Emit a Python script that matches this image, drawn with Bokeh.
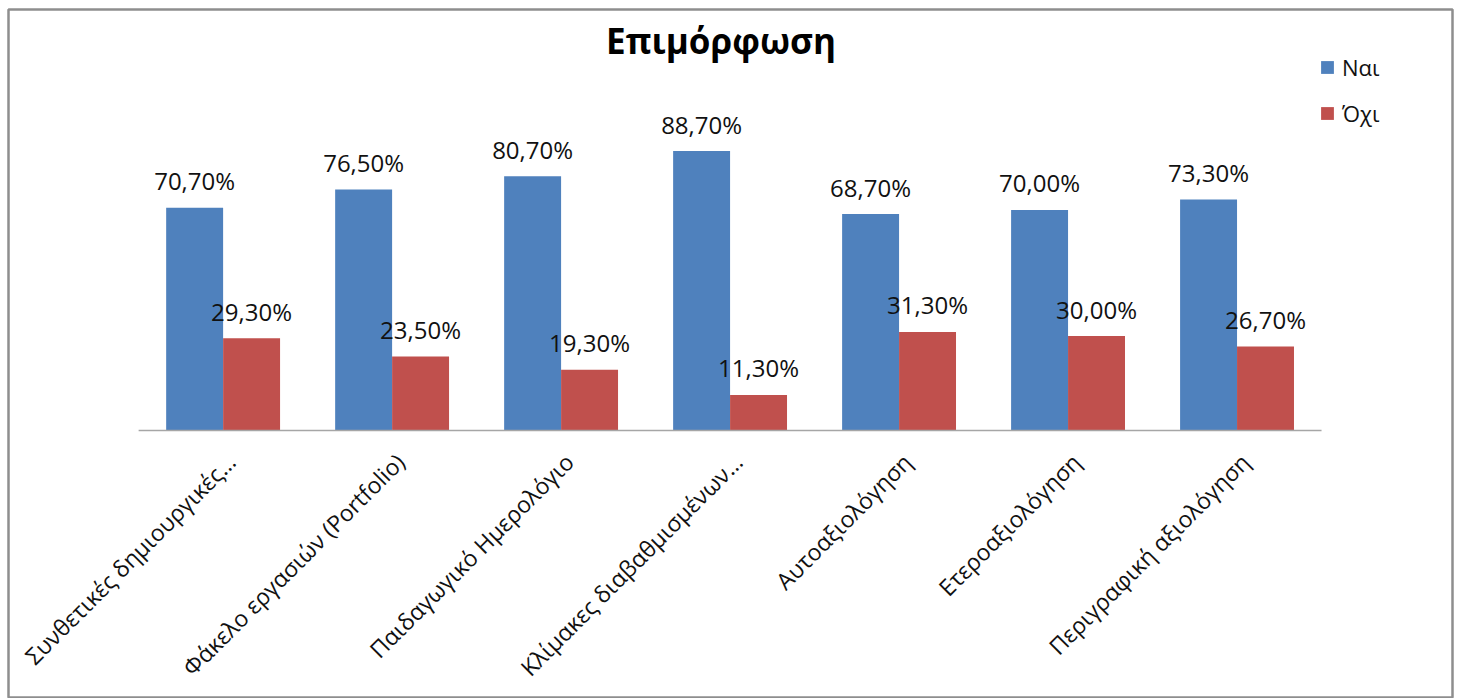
import math

from bokeh.core.properties import value
from bokeh.embed import file_html
from bokeh.models import Label, Legend, LegendItem, Range1d
from bokeh.plotting import figure
from bokeh.resources import INLINE

# Survey answers per assessment tool (percent of respondents)
categories = [
    "Συνθετικές δημιουργικές…",
    "Φάκελο εργασιών (Portfolio)",
    "Παιδαγωγικό Ημερολόγιο",
    "Κλίμακες διαβαθμισμένων…",
    "Αυτοαξιολόγηση",
    "Ετεροαξιολόγηση",
    "Περιγραφική αξιολόγηση",
]
nai = [70.7, 76.5, 80.7, 88.7, 68.7, 70.0, 73.3]
ochi = [29.3, 23.5, 19.3, 11.3, 31.3, 30.0, 26.7]
series_names = ["Ναι", "Όχι"]
title_text = "Επιμόρφωση"

BLUE = "#4F81BD"
RED = "#C0504D"
FONT = "Open Sans"


def pct(v):
    return f"{v:.2f}%".replace(".", ",")


idx = list(range(len(categories)))
bar_w = 0.337
shift = bar_w / 2
x_nai = [i - shift for i in idx]
x_ochi = [i + shift for i in idx]

W, H = 1459, 698
p = figure(
    width=W,
    height=H,
    output_backend="svg",
    toolbar_location=None,
    x_range=Range1d(-1.27, 7.275),
    y_range=Range1d(-85.0, 133.6),
    min_border_left=8,
    min_border_top=9,
    min_border_right=7,
    min_border_bottom=0,
)
p.xaxis.visible = False
p.yaxis.visible = False
p.grid.visible = False
p.outline_line_color = "#8e8e8e"
p.outline_line_width = 2.5
p.background_fill_color = "white"
p.border_fill_color = "white"

# bars
r_nai = p.vbar(x=x_nai, top=nai, width=bar_w, fill_color=BLUE, line_color=None)
r_ochi = p.vbar(x=x_ochi, top=ochi, width=bar_w, fill_color=RED, line_color=None)

# category axis line
p.segment(x0=[-0.5], x1=[len(categories) - 0.5], y0=[0], y1=[0],
          line_color="#a6a6a6", line_width=1.5)

# value labels above the bars
for xs, vals in ((x_nai, nai), (x_ochi, ochi)):
    p.text(x=xs, y=vals, text=[pct(v) for v in vals],
           text_align="center", text_baseline="alphabetic", y_offset=-27,
           text_font=value(FONT), text_font_size="24px", text_color="#111111")

# rotated category labels under the axis
p.text(x=idx, y=[0] * len(idx), text=categories, angle=math.pi / 4,
       text_align="right", text_baseline="middle", x_offset=8, y_offset=27,
       text_font=value(FONT), text_font_size="23px", text_color="#111111")

# chart title
p.add_layout(Label(x=712.5, y=658, x_units="screen", y_units="screen",
                   text=title_text, text_align="center", text_baseline="middle",
                   text_font=FONT, text_font_style="bold", text_font_size="35px",
                   text_color="#000000"))

legend = Legend(
    items=[LegendItem(label=series_names[0], renderers=[r_nai]),
           LegendItem(label=series_names[1], renderers=[r_ochi])],
    location=(1311, 570),
    padding=0,
    margin=0,
    spacing=16,
    glyph_width=16,
    glyph_height=16,
    label_height=30,
    label_standoff=7,
    label_text_font=FONT,
    label_text_font_size="22px",
    label_text_color="#111111",
    border_line_color=None,
    background_fill_alpha=0,
)
p.add_layout(legend)

open("out.html", "w").write(file_html(p, INLINE))
